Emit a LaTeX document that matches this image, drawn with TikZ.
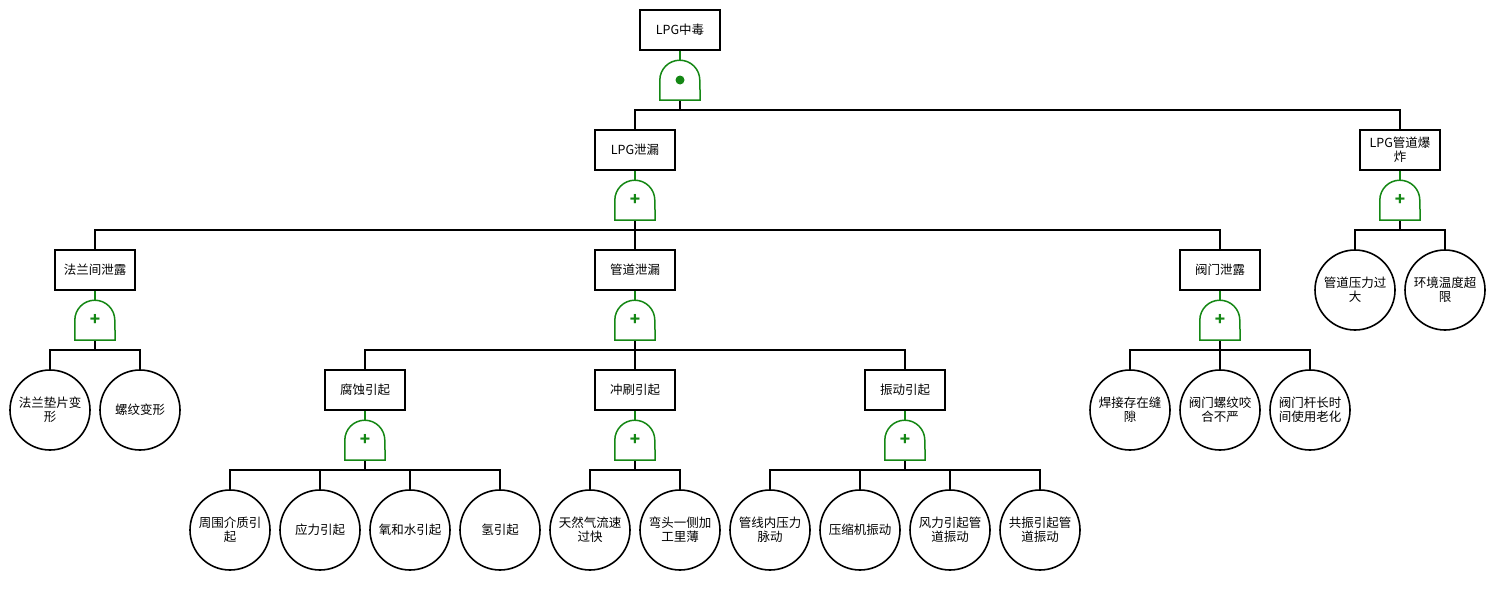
\documentclass[tikz,border=0pt]{standalone}
\usepackage{fontspec}
\setmainfont{Noto Sans CJK SC}
\definecolor{gategreen}{RGB}{20,135,20}
\usepackage{tikz}
\usetikzlibrary{positioning}

\begin{document}
\begin{tikzpicture}[x=1pt,y=1pt]
\tikzstyle{event}=[rectangle, draw=black, line width=1.6pt, minimum width=80, minimum height=40, inner sep=1pt, align=center, font=\fontsize{12.5}{14}\selectfont]
\tikzstyle{basic}=[circle, draw=black, line width=1.6pt, minimum size=80, inner sep=0pt, align=center, font=\fontsize{12.5}{14}\selectfont]
\tikzstyle{gate}=[rectangle, minimum width=40, minimum height=40, inner sep=0pt, text=gategreen, font=\fontsize{17}{17}\selectfont\bfseries]
\tikzstyle{gateline}=[draw=gategreen, line width=1.5pt]
\tikzstyle{stem}=[draw=gategreen, line width=1.5pt]
\tikzstyle{connect}=[draw=black, line width=1.6pt]
\useasboundingbox (0,0) rectangle (1495,-600);

	% top and middle events
	\node[event] (e_0) at (680,-30) {LPG中毒};
	\node[gate] (g_0) at (680,-80) {};
	\node[event] (e_1) at (635,-150) {LPG泄漏};
	\node[event] (e_2) at (1400,-150) {LPG管道爆\\炸};
	\node[gate] (g_1) at (635,-200) {+};
	\node[gate] (g_2) at (1400,-200) {+};
	\node[event] (e_3) at (95,-270) {法兰间泄露};
	\node[event] (e_4) at (635,-270) {管道泄漏};
	\node[event] (e_5) at (1220,-270) {阀门泄露};
	\node[gate] (g_3) at (95,-320) {+};
	\node[gate] (g_4) at (635,-320) {+};
	\node[gate] (g_5) at (1220,-320) {+};
	\node[event] (e_6) at (365,-390) {腐蚀引起};
	\node[event] (e_7) at (635,-390) {冲刷引起};
	\node[event] (e_8) at (905,-390) {振动引起};
	\node[gate] (g_6) at (365,-440) {+};
	\node[gate] (g_7) at (635,-440) {+};
	\node[gate] (g_8) at (905,-440) {+};

	% basic events
	\node[basic] (b_1) at (50,-410) {法兰垫片变\\形};
	\node[basic] (b_2) at (140,-410) {螺纹变形};
	\node[basic] (b_3) at (230,-530) {周围介质引\\起};
	\node[basic] (b_4) at (320,-530) {应力引起};
	\node[basic] (b_5) at (410,-530) {氧和水引起};
	\node[basic] (b_6) at (500,-530) {氢引起};
	\node[basic] (b_7) at (590,-530) {天然气流速\\过快};
	\node[basic] (b_8) at (680,-530) {弯头一侧加\\工里薄};
	\node[basic] (b_9) at (770,-530) {管线内压力\\脉动};
	\node[basic] (b_10) at (860,-530) {压缩机振动};
	\node[basic] (b_11) at (950,-530) {风力引起管\\道振动};
	\node[basic] (b_12) at (1040,-530) {共振引起管\\道振动};
	\node[basic] (b_13) at (1130,-410) {焊接存在缝\\隙};
	\node[basic] (b_14) at (1220,-410) {阀门螺纹咬\\合不严};
	\node[basic] (b_15) at (1310,-410) {阀门杆长时\\间使用老化};
	\node[basic] (b_16) at (1355,-290) {管道压力过\\大};
	\node[basic] (b_17) at (1445,-290) {环境温度超\\限};

	% connectors
	\foreach \g/\c in {g_0/e_1,g_0/e_2,g_1/e_3,g_1/e_4,g_1/e_5,g_2/b_16,g_2/b_17,
		g_3/b_1,g_3/b_2,g_4/e_6,g_4/e_7,g_4/e_8,g_5/b_13,g_5/b_14,g_5/b_15,
		g_6/b_3,g_6/b_4,g_6/b_5,g_6/b_6,g_7/b_7,g_7/b_8,
		g_8/b_9,g_8/b_10,g_8/b_11,g_8/b_12}
		\draw[connect] (\g.south) -- ++(0,-10) -| (\c.north);

	\foreach \e/\g in {e_0/g_0,e_1/g_1,e_2/g_2,e_3/g_3,e_4/g_4,e_5/g_5,e_6/g_6,e_7/g_7,e_8/g_8}
		\draw[stem] (\e.south) -- (\g.north);

	% gate outlines
	\foreach \g in {g_0,g_1,g_2,g_3,g_4,g_5,g_6,g_7,g_8}
		\draw[gateline] (\g.south west) -- ++(0,20) arc (180:0:20) -- (\g.south east) -- cycle;
	\fill[gategreen] (g_0) circle (4.5);

\end{tikzpicture}
\end{document}
